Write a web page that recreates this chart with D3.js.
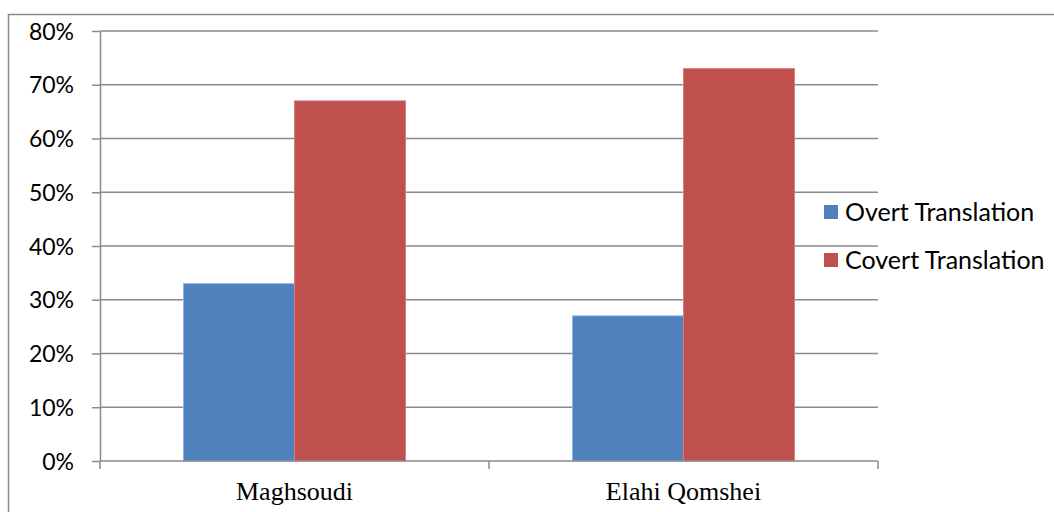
<!DOCTYPE html>
<html>
<head>
<meta charset="utf-8">
<script src="https://cdn.jsdelivr.net/npm/d3@7"></script>
<style>
  html, body { margin: 0; padding: 0; background: #fff; }
  svg { display: block; }
</style>
</head>
<body>
<script>
// Share of overt vs. covert translation in two Persian translations
const categories = ["Maghsoudi", "Elahi Qomshei"];
const seriesNames = ["Overt Translation", "Covert Translation"];
const overtValues = [0.33, 0.27];
const covertValues = [0.67, 0.73];
const yTicks = [0, 0.1, 0.2, 0.3, 0.4, 0.5, 0.6, 0.7, 0.8];
const colors = ["#4f81bd", "#c0504d"];
const strokeColors = ["#8fb3e6", "#d77f7c"];

const W = 1054, H = 512;
const plot = { left: 100, right: 878, top: 31, bottom: 461 };
const gridColor = "#8a8a8a";
const sansFont = "Lato, 'Open Sans', sans-serif";
const serifFont = "'Liberation Serif', 'Times New Roman', serif";

const rows = categories.map((c, i) => ({ category: c, values: [overtValues[i], covertValues[i]] }));

const svg = d3.select("body").append("svg")
  .attr("width", W).attr("height", H);

// chart frame (runs off the right and bottom edges)
svg.append("rect")
  .attr("x", 8.5).attr("y", 14.5)
  .attr("width", W + 20).attr("height", H + 20)
  .attr("fill", "none").attr("stroke", gridColor).attr("stroke-width", 1.5);

const y = d3.scaleLinear().domain([0, 0.8]).range([plot.bottom, plot.top]);
const x0 = d3.scaleBand().domain(categories).range([plot.left, plot.right]).padding(0);
const x1 = d3.scaleBand().domain(seriesNames).range([0, x0.bandwidth()])
  .paddingInner(0).paddingOuter(0.752);

// horizontal gridlines
svg.append("g")
  .selectAll("line").data(yTicks.filter(d => d > 0)).join("line")
  .attr("x1", plot.left).attr("x2", plot.right)
  .attr("y1", d => y(d)).attr("y2", d => y(d))
  .attr("stroke", gridColor).attr("stroke-width", 1.5);

// y axis
const yAxis = svg.append("g")
  .attr("transform", `translate(${plot.left},0)`)
  .call(d3.axisLeft(y).tickValues(yTicks).tickFormat(d3.format(".0%")).tickSizeInner(8).tickSizeOuter(0).tickPadding(18));
yAxis.select(".domain").attr("stroke", gridColor).attr("stroke-width", 1.5);
yAxis.selectAll(".tick line").attr("stroke", gridColor).attr("stroke-width", 1.5);
yAxis.selectAll(".tick text")
  .attr("fill", "#000").style("font-family", sansFont).style("font-size", "23px")
  .attr("dy", "0.35em");

// bars
const groups = svg.append("g").selectAll("g").data(rows).join("g")
  .attr("transform", d => `translate(${x0(d.category)},0)`);
groups.selectAll("rect")
  .data(d => d.values.map((v, i) => ({ key: seriesNames[i], value: v, i })))
  .join("rect")
  .attr("x", d => x1(d.key))
  .attr("y", d => y(d.value))
  .attr("width", x1.bandwidth())
  .attr("height", d => y(0) - y(d.value))
  .attr("fill", d => colors[d.i])
  .attr("stroke", d => strokeColors[d.i])
  .attr("stroke-width", 1);

// x axis
const xAxis = svg.append("g")
  .attr("transform", `translate(0,${plot.bottom})`);
xAxis.append("line")
  .attr("x1", plot.left).attr("x2", plot.right)
  .attr("stroke", gridColor).attr("stroke-width", 1.5);
const boundaries = categories.map(c => x0(c)).concat([plot.right]);
xAxis.selectAll("line.tick").data(boundaries).join("line")
  .attr("class", "tick")
  .attr("x1", d => d).attr("x2", d => d)
  .attr("y1", 0).attr("y2", 8)
  .attr("stroke", gridColor).attr("stroke-width", 1.5);
xAxis.selectAll("text").data(categories).join("text")
  .attr("x", d => x0(d) + x0.bandwidth() / 2)
  .attr("y", 39)
  .attr("text-anchor", "middle")
  .style("font-family", serifFont).style("font-size", "26px")
  .attr("fill", "#000")
  .text(d => d);

// legend
const legend = svg.append("g").attr("transform", "translate(824,212)");
const items = legend.selectAll("g").data(seriesNames).join("g")
  .attr("transform", (d, i) => `translate(0,${i * 48})`);
items.append("rect")
  .attr("x", 0).attr("y", -7).attr("width", 14).attr("height", 14)
  .attr("fill", (d, i) => colors[i]);
items.append("text")
  .attr("x", 21).attr("y", 0).attr("dy", "0.35em")
  .style("font-family", sansFont).style("font-size", "25px")
  .attr("fill", "#000")
  .text(d => d);
</script>
</body>
</html>
